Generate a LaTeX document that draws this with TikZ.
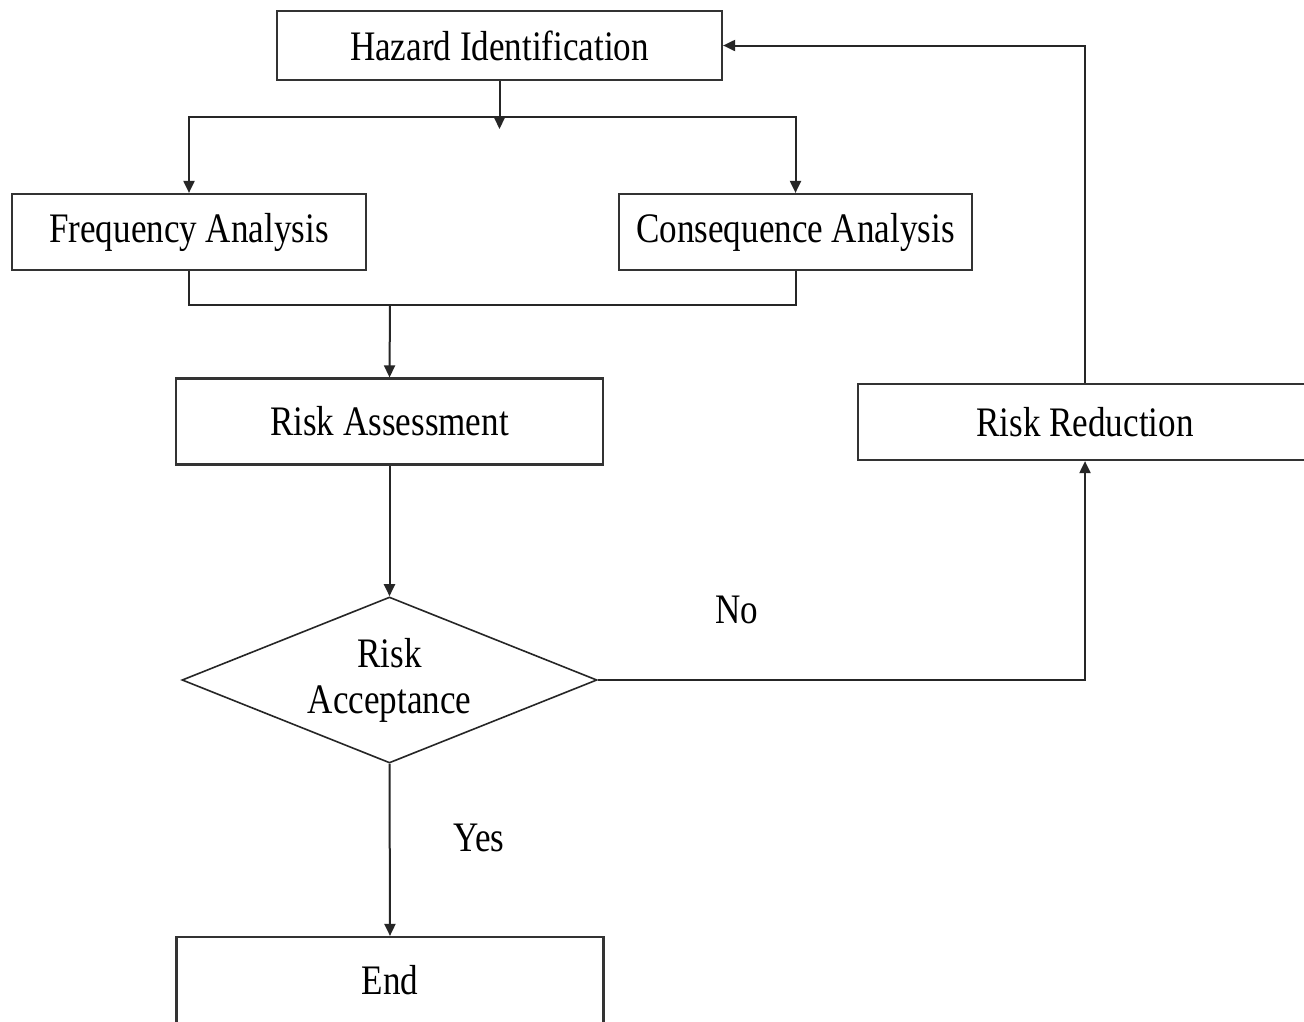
\documentclass[tikz,border=0pt]{standalone}
\usepackage{fontspec}
\setmainfont{Liberation Serif}[FakeStretch=0.835]
\usetikzlibrary{arrows.meta,shapes.geometric}
\begin{document}
\begin{tikzpicture}[x=1pt,y=-1pt,
  box/.style={draw=black!80, line width=2.2pt, rectangle, inner sep=0pt, font=\fontsize{42}{46}\selectfont},
  dec/.style={draw=black!85, line width=1.6pt, diamond, aspect=2.5, inner sep=0pt, align=center, font=\fontsize{42}{46}\selectfont},
  conn/.style={draw=black!85, line width=2pt},
  arr/.style={conn, -{Triangle[length=12pt,width=11pt]}},
  lab/.style={font=\fontsize{42}{46}\selectfont, inner sep=0pt}]
\useasboundingbox (0,0) rectangle (1304,1021);
\clip (0,0) rectangle (1304,1021);
\fill[white] (0,0) rectangle (1304,1021);

\node[box, minimum width=445pt, minimum height=69pt] (haz) at (499.5,45.5) {Hazard Identification};
\node[box, minimum width=354pt, minimum height=76pt] (fa) at (189,232) {Frequency Analysis};
\node[box, minimum width=353pt, minimum height=76pt] (ca) at (795.5,232) {Consequence Analysis};
\node[box, minimum width=427pt, minimum height=86pt] (ra) at (389.5,421.5) {Risk Assessment};
\node[dec, minimum width=415pt, minimum height=166pt] (acc) at (389.5,680) {Risk\\Acceptance};
\node[box, minimum width=454pt, minimum height=76pt] (rr) at (1085,422) {Risk Reduction};
\node[box, minimum width=427pt, minimum height=160pt] (end) at (390,1017) {};
\node[lab] (endt) at (390,980) {End};

\node[lab] (no) at (737,610) {No};
\node[lab] (yes) at (479,838) {Yes};

\coordinate (j1) at (499.5,117);
\coordinate (j1tip) at (499.5,129);
\coordinate (m) at (390,305);

\draw[arr] (haz.south) -- (j1tip);
\draw[arr] (j1) -| (fa.north);
\draw[arr] (j1) -| (ca.north);
\draw[conn] (fa.south) |- (m) -| (ca.south);
\draw[arr] (m) -- (ra.north);
\draw[arr] (ra.south) -- (acc.north);
\draw[arr] (acc.south) -- (end.north);
\draw[arr] (acc.east) -| (rr.south);
\draw[arr] (rr.north) |- (haz.east);
\end{tikzpicture}
\end{document}
